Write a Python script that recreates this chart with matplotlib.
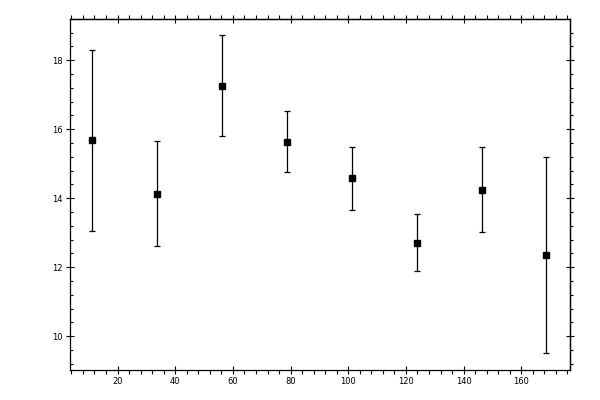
import matplotlib
matplotlib.use("Agg")
import matplotlib.pyplot as plt
from matplotlib.ticker import MultipleLocator

x_centres = [11.25, 33.75, 56.25, 78.75, 101.25, 123.75, 146.25, 168.75]
y_values = [15.68, 14.12, 17.25, 15.62, 14.58, 12.70, 14.23, 12.35]
y_upper = [18.31, 15.65, 18.72, 16.52, 15.48, 13.54, 15.48, 15.19]
y_lower = [13.04, 12.61, 15.80, 14.76, 13.65, 11.88, 13.01, 9.51]

err_lo = [v - lo for v, lo in zip(y_values, y_lower)]
err_hi = [hi - v for v, hi in zip(y_values, y_upper)]

fig = plt.figure(figsize=(6, 4), dpi=100)
ax = fig.add_axes([0.116, 0.074, 0.834, 0.878])

ax.errorbar(x_centres, y_values, yerr=[err_lo, err_hi], fmt="s", color="black",
            markersize=5, elinewidth=0.9, capsize=2.2, capthick=0.9)

ax.set_xlim(3.37, 176.9)
ax.set_ylim(9.01, 19.19)

ax.xaxis.set_major_locator(MultipleLocator(20))
ax.xaxis.set_minor_locator(MultipleLocator(4))
ax.yaxis.set_major_locator(MultipleLocator(2))
ax.yaxis.set_minor_locator(MultipleLocator(0.4))

for sp in ax.spines.values():
    sp.set_linewidth(0.9)

ax.tick_params(which="major", direction="inout", length=6, width=0.8, labelsize=6, pad=2)
ax.tick_params(axis="x", which="minor", direction="out", length=2.6, width=0.8)
ax.tick_params(axis="y", which="minor", direction="in", length=2.2, width=0.8)
ax.tick_params(top=False, right=False, which="both")

# top and right axes carry their own ticks (no labels)
top = ax.secondary_xaxis("top")
top.xaxis.set_major_locator(MultipleLocator(20))
top.xaxis.set_minor_locator(MultipleLocator(4))
top.tick_params(which="major", direction="inout", length=6, width=0.8, labeltop=False)
top.tick_params(which="minor", direction="out", length=2.6, width=0.8)
top.spines["top"].set_linewidth(0.9)

right = ax.secondary_yaxis("right")
right.yaxis.set_major_locator(MultipleLocator(2))
right.yaxis.set_minor_locator(MultipleLocator(0.4))
right.tick_params(which="major", direction="inout", length=6, width=0.8, labelright=False)
right.tick_params(which="minor", direction="out", length=2.2, width=0.8)
right.spines["right"].set_linewidth(0.9)

fig.savefig("out.png", dpi=100)
